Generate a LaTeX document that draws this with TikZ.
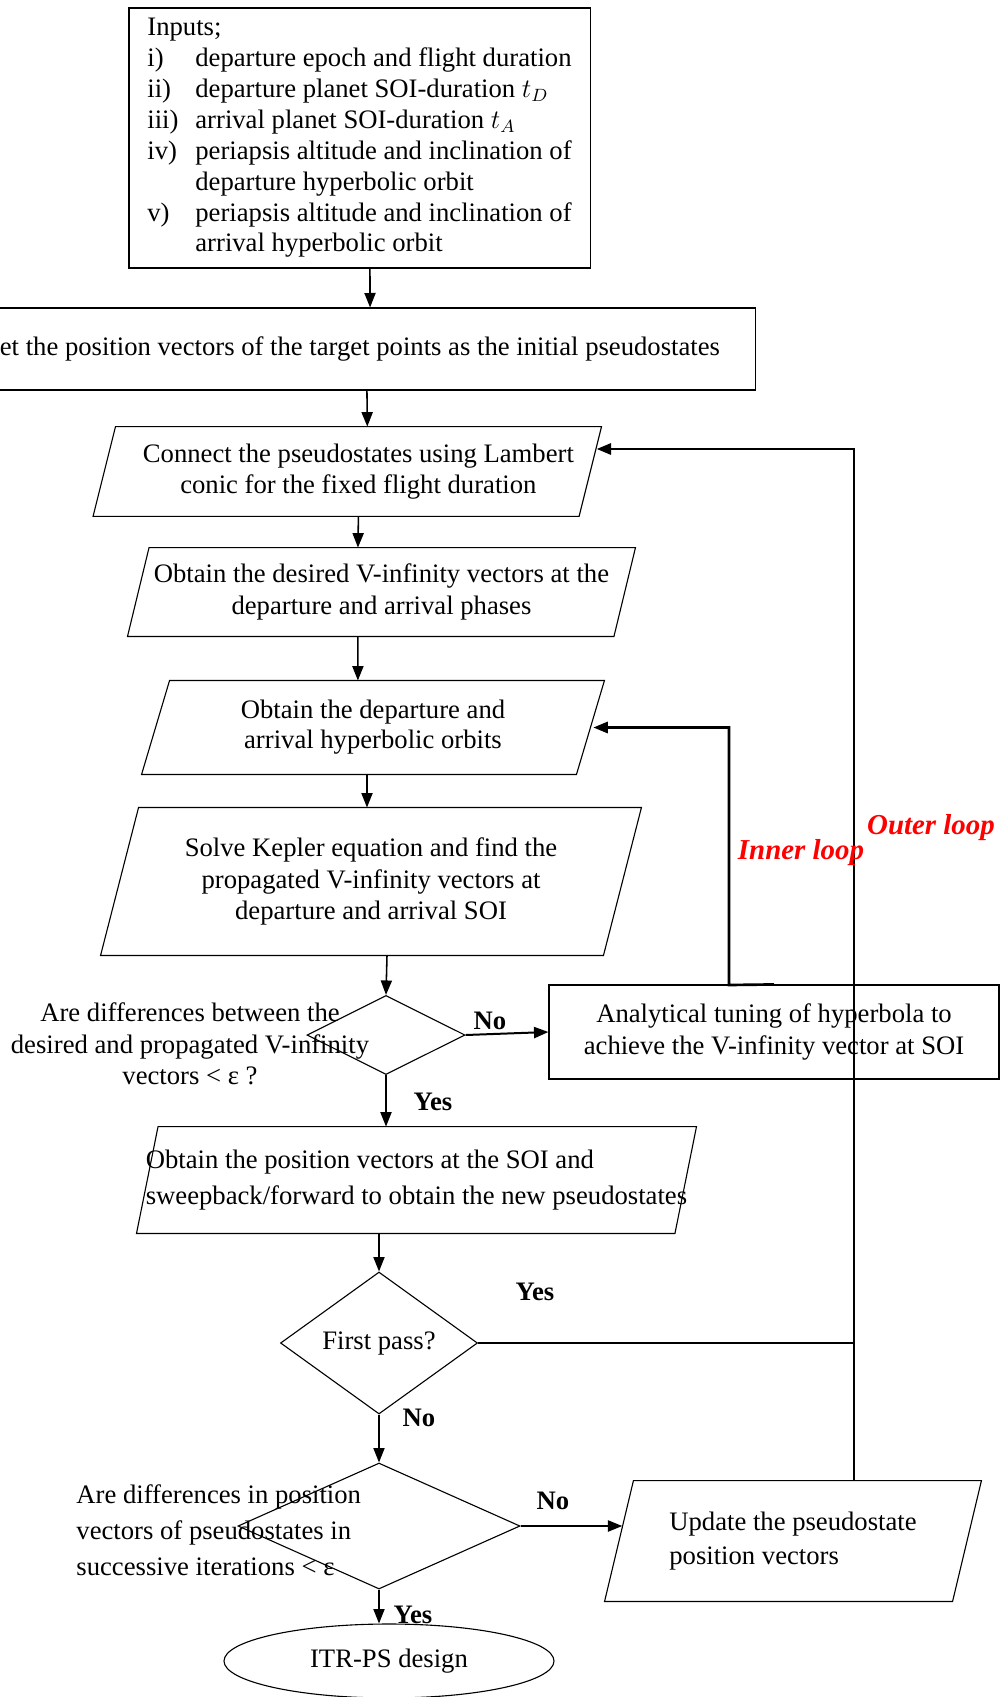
\documentclass[tikz,border=0pt]{standalone}
\usepackage{fontspec}
\setmainfont{Liberation Serif}
\usetikzlibrary{arrows.meta, shapes.geometric, calc}
\newcommand{\lbl}[1]{\makebox[21.6pt][l]{#1}}

\begin{document}
\begin{tikzpicture}[
  x = 0.45pt,
  y = -0.45pt,
  font = \fontsize{12}{14}\selectfont,
  box/.style = {
    draw,
    line width = 0.5pt,
    inner sep = 2pt,
    align = center,
  },
  io/.style = {
    inner sep = 0pt,
    align = center,
  },
  decision/.style = {
    draw,
    line width = 0.5pt,
    shape = diamond,
    inner sep = 0pt,
  },
  flow/.style = {
    line width = 0.7pt,
    -{Triangle[length = 6.5pt, width = 5pt]}
  },
  answer/.style = {
    font = \fontsize{12}{14}\selectfont\bfseries
  },
  loopline/.style = {
    line width = 1.2pt
  },
  looplabel/.style = {
    text = red,
    font = \fontsize{13}{15}\selectfont\bfseries\itshape
  }
]
  \useasboundingbox (0, 0) rectangle (1000, 1697);
  \clip (0, 0) rectangle (1000, 1697);

  \node[box, align = left, inner xsep = 7.25pt, minimum width = 207.5pt, minimum height = 117pt,
    font = \fontsize{12}{13.9}\selectfont] (inp) at (359.5, 138)
    {Inputs;\\
     \lbl{i)}departure epoch and flight duration\\
     \lbl{ii)}departure planet SOI-duration $t_D$\\
     \lbl{iii)}arrival planet SOI-duration $t_A$\\
     \lbl{iv)}periapsis altitude and inclination of\\
     \lbl{}departure hyperbolic orbit\\
     \lbl{v)}periapsis altitude and inclination of\\
     \lbl{}arrival hyperbolic orbit};
  \node[box, minimum width = 362.3pt, minimum height = 36.9pt] (set) at (352.5, 349)
    {Set the position vectors of the target points as the initial pseudostates};

  \node[io, minimum width = 228.4pt, minimum height = 40pt] (conn) at (347.3, 471.5)
    {\hspace*{10pt}Connect the pseudostates using Lambert\\\hspace*{10pt}conic for the fixed flight duration};
  \node[io, minimum width = 228.2pt, minimum height = 39.6pt,
    font = \fontsize{12}{14.6}\selectfont] (vinf) at (381.5, 592)
    {Obtain the desired V-infinity vectors at the\\departure and arrival phases};
  \node[io, minimum width = 207.9pt, minimum height = 41.9pt,
    font = \fontsize{12}{13.6}\selectfont] (hyp) at (373, 727.5)
    {Obtain the departure and\\arrival hyperbolic orbits};
  \node[io, minimum width = 243pt, minimum height = 66.2pt] (kep) at (371, 881.5)
    {Solve Kepler equation and find the\\propagated V-infinity vectors at\\departure and arrival SOI};

  \node[decision, minimum width = 71.1pt, minimum height = 35.6pt] (d1) at (386, 1035) {};
  \node[align = center, font = \fontsize{12}{14.2}\selectfont] (d1q) at (190, 1044)
    {Are differences between the\\desired and propagated V-infinity\\vectors < ε ?};
  \node[box, minimum width = 202.5pt, minimum height = 42.3pt,
    font = \fontsize{12}{14.4}\selectfont] (ana) at (774, 1032)
    {Analytical tuning of hyperbola to\\achieve the V-infinity vector at SOI};

  \node[io, minimum width = 251.6pt, minimum height = 47.7pt, align = left,
    font = \fontsize{12}{16}\selectfont] (pos) at (416.5, 1180)
    {Obtain the position vectors at the SOI and\\sweepback/forward to obtain the new pseudostates};

  \node[decision, minimum width = 88.65pt, minimum height = 63.9pt] (fp) at (379, 1343) {First pass?};
  \node[decision, minimum width = 126.9pt, minimum height = 56.7pt] (d3) at (379, 1526) {};
  \node[align = left, anchor = west, inner sep = 0pt,
    font = \fontsize{12}{16.2}\selectfont] (d3q) at (76, 1530)
    {Are differences in position\\vectors of pseudostates in\\successive iterations < ε};
  \node[io, minimum width = 169.2pt, minimum height = 54pt, align = left,
    font = \fontsize{12}{15.6}\selectfont] (upd) at (793, 1541)
    {Update the pseudostate\\position vectors};
  \node[draw, line width = 0.5pt, shape = ellipse, inner sep = 0pt,
    minimum width = 148.5pt, minimum height = 33.3pt] (itr) at (389, 1661) {ITR-PS design};

  \foreach \n/\s in {conn/10.1pt, vinf/9.7pt, hyp/12.6pt, kep/17.1pt, pos/9.7pt, upd/13pt}
    \draw[line width = 0.5pt] ([xshift = \s]\n.north west) -- (\n.north east)
      -- ([xshift = -\s]\n.south east) -- (\n.south west) -- cycle;

  \coordinate (inx) at (729, 985);
  \coordinate (oc) at (854, 449);

  \draw[flow] ([xshift = 4.7pt]inp.south) -- ([xshift = 7.9pt]set.north);
  \draw[flow] ([xshift = 6.5pt]set.south) -- ([xshift = 9pt]conn.north);
  \draw[flow] ([xshift = 5pt]conn.south) -- ([xshift = -10.6pt]vinf.north);
  \draw[flow] ([xshift = -10.6pt]vinf.south) -- ([xshift = -6.8pt]hyp.north);
  \draw[flow] ([xshift = -2.7pt]hyp.south) -- ([xshift = -1.8pt]kep.north);
  \draw[flow] ([xshift = 7.2pt]kep.south) -- (d1.north);
  \draw[flow] (d1.south) -- (d1.south |- pos.north);
  \draw[flow] (pos.south -| fp.north) -- (fp.north);
  \draw[flow] (fp.south) -- (d3.north);
  \draw[flow] (d3.south) -- (d3.south |- itr.north);

  \draw[flow, line width = 0.9pt] (d1.east) -- (ana.west);
  \draw[flow, line width = 0.9pt] (d3.east) -- ($(d3.east -| upd.west) + (8pt, 0)$);

  \draw[flow, loopline] (ana.north) -- (inx) |- ($(hyp.east) + (-5pt, 0)$);
  \draw[flow, loopline] (fp.east) -| (oc) -- ($(oc -| conn.east) + (-2.2pt, 0)$);
  \draw[line width = 0.5pt] (upd.north -| oc) -- (fp.east -| oc);

  \node[answer] (no1) at (490, 1021) {No};
  \node[answer] (yes1) at (433, 1102) {Yes};
  \node[answer] (yes2) at (535, 1292) {Yes};
  \node[answer] (no2) at (419, 1418) {No};
  \node[answer] (no3) at (553, 1501) {No};
  \node[answer] (yes3) at (413, 1615) {Yes};
  \node[looplabel] (inner) at (801, 853) {Inner loop};
  \node[looplabel] (outer) at (931, 828) {Outer loop};
\end{tikzpicture}
\end{document}
